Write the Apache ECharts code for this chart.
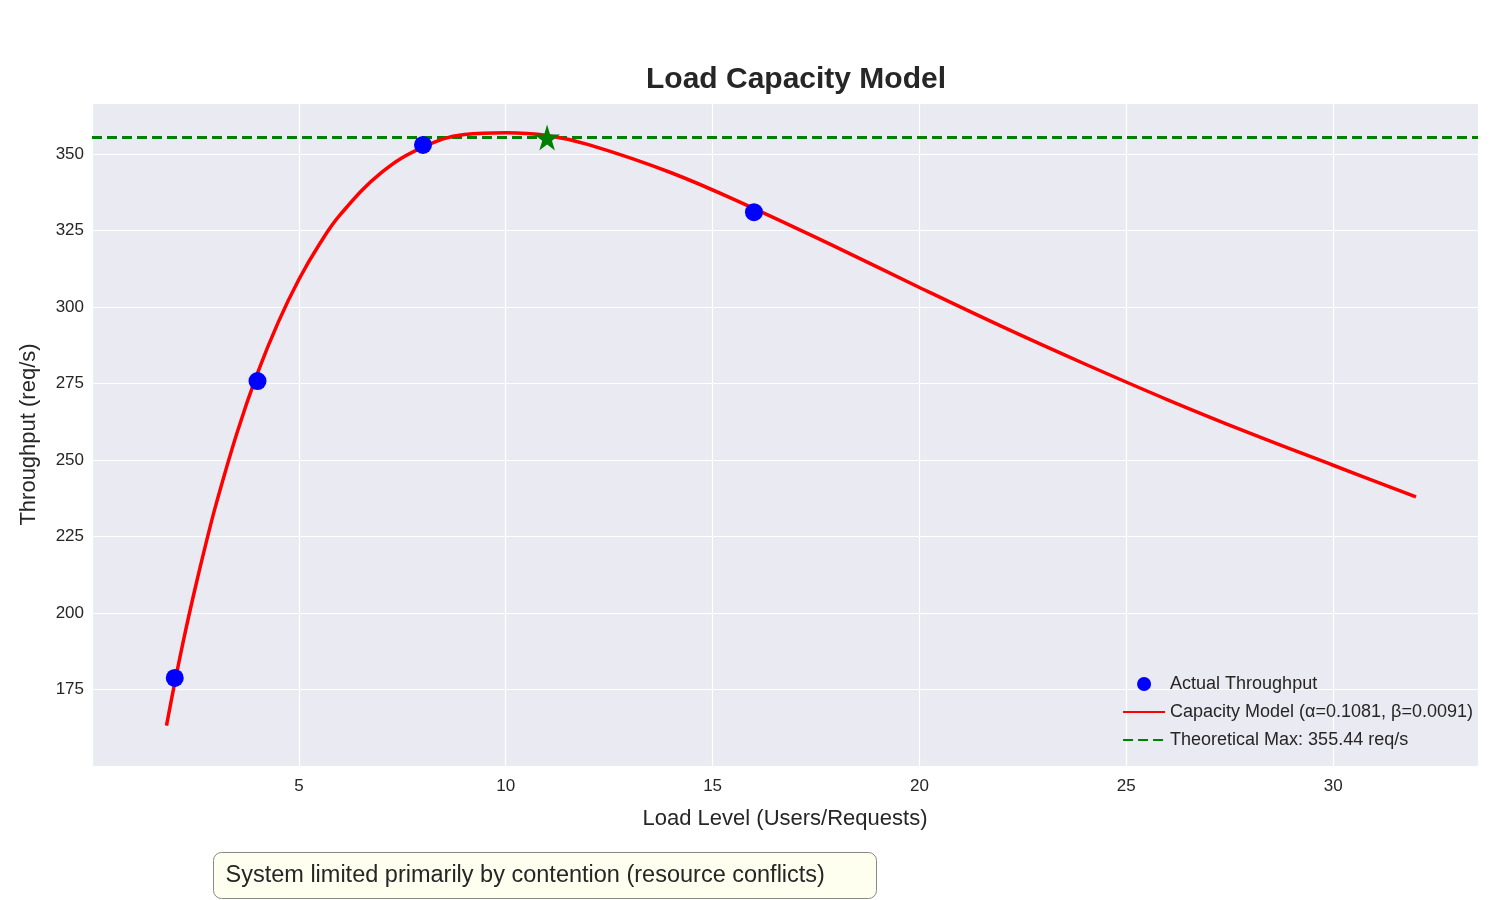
<!DOCTYPE html>
<html>
<head>
<meta charset="utf-8">
<script src="https://cdn.jsdelivr.net/npm/echarts@6/dist/echarts.min.js"></script>
<style>
  html, body { margin: 0; padding: 0; background: #fff; }
  #chart { width: 1500px; height: 900px; }
</style>
</head>
<body>
<div id="chart"></div>
<script>
// measured points
var loadLevels = [2, 4, 8, 16];
var throughput = [178.8, 275.8, 353.0, 331.0];

// model curve
var curveX = [1.8, 2, 2.25, 2.5, 2.75, 3, 3.5, 4, 4.5, 5, 5.5, 6, 7, 8, 9, 10, 11, 12, 14, 16, 18, 20, 22, 24, 26, 28, 30, 32];
var curveY = [163.2, 177.2, 193.5, 208.5, 222.5, 235.6, 258.7, 278.4, 295.0, 309.0, 320.6, 330.2, 344.0, 352.3, 356.4, 357.0, 356.1, 353.1, 343.9, 332.2, 319.5, 306.4, 293.6, 281.4, 269.7, 258.7, 248.3, 238.0];

var theoMax = 355.44;
var theoMaxX = 11;
var modelName = 'Capacity Model (α=0.1081, β=0.0091)';

var chart = echarts.init(document.getElementById('chart'));

var option = {
  backgroundColor: '#fff',
  textStyle: { fontFamily: 'Arial, Liberation Sans, sans-serif' },
  title: {
    text: 'Load Capacity Model',
    left: 791, top: 60, textAlign: 'center',
    textStyle: { fontSize: 30, fontWeight: 'bold', color: '#262626' }
  },
  grid: {
    left: 92, right: 22, top: 103, bottom: 134,
    show: true, backgroundColor: '#eaeaf2', borderWidth: 0
  },
  legend: {
    right: 22, bottom: 146, orient: 'vertical',
    itemGap: 10, itemWidth: 42, itemHeight: 14,
    textStyle: { fontSize: 18, color: '#262626' },
    data: [
      { name: 'Actual Throughput', icon: 'circle' },
      { name: modelName, itemStyle: { opacity: 0 } },
      { name: 'Theoretical Max: 355.44 req/s', itemStyle: { opacity: 0 } }
    ]
  },
  xAxis: {
    type: 'value', min: 0, max: 33.5, interval: 5,
    name: 'Load Level (Users/Requests)', nameLocation: 'middle', nameGap: 42,
    nameTextStyle: { fontSize: 22, color: '#262626' },
    axisLine: { show: false }, axisTick: { show: false },
    axisLabel: { fontSize: 17, color: '#262626', margin: 12, showMinLabel: false, showMaxLabel: false },
    splitLine: { lineStyle: { color: '#fff', width: 1.2 } }
  },
  yAxis: {
    type: 'value', min: 150, max: 366.7, interval: 25,
    name: 'Throughput (req/s)', nameLocation: 'middle', nameGap: 52,
    nameTextStyle: { fontSize: 22, color: '#262626' },
    axisLine: { show: false }, axisTick: { show: false },
    axisLabel: { fontSize: 17, color: '#262626', showMinLabel: false, showMaxLabel: false },
    splitLine: { lineStyle: { color: '#fff', width: 1.2 } }
  },
  series: [
    {
      name: modelName, type: 'line', smooth: 0.4, showSymbol: false, symbol: 'none',
      data: curveX.map(function (x, i) { return [x, curveY[i]]; }),
      lineStyle: { color: 'red', width: 3.5 }, itemStyle: { color: 'red' }, z: 3
    },
    {
      name: 'Theoretical Max: 355.44 req/s', type: 'line', symbol: 'none',
      data: [[0, theoMax], [33.5, theoMax]],
      lineStyle: { color: 'green', width: 3, type: [10, 5] }, itemStyle: { color: 'green' }, z: 2
    },
    {
      name: 'Actual Throughput', type: 'scatter', symbolSize: 18,
      data: loadLevels.map(function (x, i) { return [x, throughput[i]]; }),
      itemStyle: { color: 'blue', opacity: 1 }, z: 4
    },
    {
      name: 'peak', type: 'scatter', symbol: 'path://M50,0 L61,35 L98,35 L68,57 L79,91 L50,70 L21,91 L32,57 L2,35 L39,35 Z',
      symbolSize: 26, data: [[theoMaxX, theoMax]],
      itemStyle: { color: 'green', opacity: 1 }, z: 5
    }
  ],
  graphic: [{
    type: 'group', left: 213, top: 852,
    children: [
      { type: 'rect', shape: { x: 0, y: 0, width: 663, height: 46, r: 8 },
        style: { fill: '#fffff0', stroke: '#888', lineWidth: 1 } },
      { type: 'text', style: { x: 12, y: 23, text: 'System limited primarily by contention (resource conflicts)',
        fontSize: 23.5, fill: '#262626', verticalAlign: 'middle' } }
    ]
  }]
};

chart.setOption(option);
</script>
</body>
</html>
